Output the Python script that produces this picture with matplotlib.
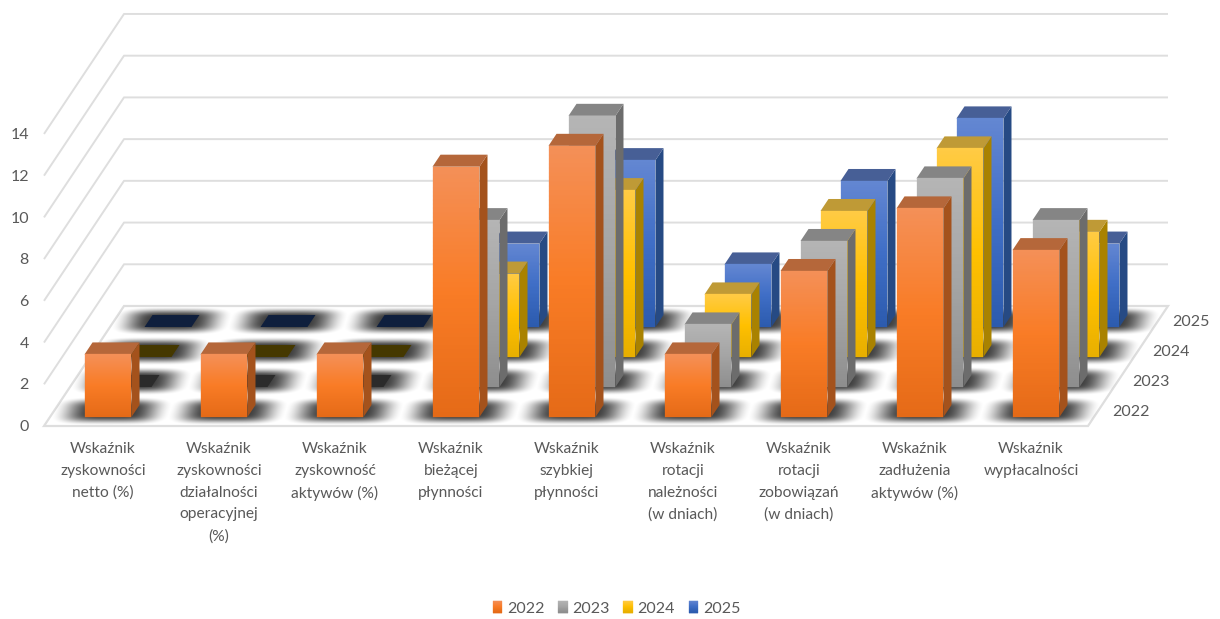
import matplotlib
matplotlib.use("Agg")
import matplotlib.pyplot as plt
import numpy as np
from matplotlib.collections import PolyCollection
from matplotlib.patches import Patch, Polygon

plt.rcParams['font.family'] = ['Lato', 'DejaVu Sans']

categories = [
    "Wskaźnik\nzyskowności\nnetto (%)",
    "Wskaźnik\nzyskowności\ndziałalności\noperacyjnej\n(%)",
    "Wskaźnik\nzyskowność\naktywów (%)",
    "Wskaźnik\nbieżącej\npłynności",
    "Wskaźnik\nszybkiej\npłynności",
    "Wskaźnik\nrotacji\nnależności\n(w dniach)",
    "Wskaźnik\nrotacji\nzobowiązań\n(w dniach)",
    "Wskaźnik\nzadłużenia\naktywów (%)",
    "Wskaźnik\nwypłacalności",
]
years = ["2022", "2023", "2024", "2025"]
values_2022 = [3, 3, 3, 12, 13, 3, 7, 10, 8]
values_2023 = [0, 0, 0, 8, 13, 3, 7, 10, 8]
values_2024 = [0, 0, 0, 4, 8, 3, 7, 10, 6]
values_2025 = [0, 0, 0, 4, 8, 3, 7, 10, 4]
series = [values_2022, values_2023, values_2024, values_2025]
value_ticks = [0, 2, 4, 6, 8, 10, 12, 14]

# top / middle / bottom of the front face gradient
front_cols = [
    ["#F49058", "#F97C26", "#E56A17"],
    ["#B5B5B5", "#A5A5A5", "#8E8E8E"],
    ["#FFCB45", "#FFC000", "#E8AF00"],
    ["#6487D2", "#3F6EC6", "#2C5BAE"],
]
side_cols = ["#A4521C", "#6C6C6C", "#A98200", "#264A84"]
top_cols = ["#B5673A", "#858585", "#BF9A36", "#475F96"]
zero_cols = ["#B5673A", "#2B2B2B", "#453800", "#0F1F3D"]

# oblique projection of the chart onto figure pixels
X0, Y0 = 44, 426
CAT_W, ROW_DX, ROW_DY, UNIT = 116, 20, 30, 20.86
BAR = 0.405
BAR_D = 0.4


def project(cat, row, value=0):
    return X0 + CAT_W * cat + ROW_DX * row, Y0 - ROW_DY * row - UNIT * value


fig = plt.figure(figsize=(12.2, 6.19), dpi=100)
ax = fig.add_axes([0, 0, 1, 1])
ax.set_xlim(0, 1220)
ax.set_ylim(619, 0)
ax.autoscale(False)
ax.axis("off")


def shade(verts, stops, z):
    # vertical three stop gradient made of thin strips, corners go TL TR BR BL
    tl, tr, br, bl = [np.array(v, dtype=float) for v in verts]
    rgb = np.array([matplotlib.colors.to_rgb(c) for c in stops])
    t = np.linspace(0, 1, 61)
    strips = []
    cols = []
    for a, b in zip(t[:-1], t[1:]):
        strips.append([tl + (bl - tl) * a, tr + (br - tr) * a, tr + (br - tr) * b, tl + (bl - tl) * b])
        cols.append([np.interp((a + b) / 2, [0, 0.5, 1], rgb[:, k]) for k in range(3)])
    ax.add_collection(PolyCollection(strips, facecolors=cols, edgecolors=cols, linewidths=0.2, zorder=z))


n_cat = len(categories)
n_row = len(years)
grid_col = "#DEDEDE"

# walls
for v in value_ticks[1:]:
    ax.plot(*zip(project(0, 0, v), project(0, n_row, v), project(n_cat, n_row, v)),
            color=grid_col, lw=1.4, zorder=1, solid_capstyle="butt")

# floor
floor = [project(0, 0), project(n_cat, 0), project(n_cat, n_row), project(0, n_row)]
ax.add_patch(Polygon(floor, closed=True, facecolor="white", edgecolor=grid_col, lw=1.6, zorder=2))

# soft shadows round each bar foot
gx, gy = np.meshgrid(np.arange(1220) + 0.5, np.arange(280, 440) + 0.5)
shadow = np.zeros(gx.shape)
for r in range(n_row):
    for c in range(n_cat):
        cx, cy = project(c + 0.5, r + 0.5)
        dist_x = np.abs(gx - cx + (gy - cy) * 0.3)
        dist = ((dist_x / 60) ** 4 + (np.abs(gy - cy) / 14.5) ** 4) ** (1 / 4)
        s = np.clip((1 - dist) / 0.65, 0, 1)
        shadow = np.maximum(shadow, s * s * (3 - 2 * s))
layer = np.zeros(gx.shape + (4,))
layer[..., 3] = 0.75 * shadow
im = ax.imshow(layer, extent=(0, 1220, 440, 280), aspect="auto", zorder=3, interpolation="bilinear")
im.set_clip_path(Polygon(floor, closed=True, transform=ax.transData))

# bars, back row first
z = 4
for r in reversed(range(n_row)):
    for c in range(n_cat):
        v = series[r][c]
        c0 = c + (1 - BAR) / 2
        c1 = c0 + BAR
        r0 = r + (1 - BAR_D) / 2
        r1 = r0 + BAR_D
        top = [project(c0, r0, v), project(c1, r0, v), project(c1, r1, v), project(c0, r1, v)]
        if v == 0:
            ax.add_patch(Polygon(top, closed=True, facecolor=zero_cols[r], edgecolor="none", zorder=z))
            z += 1
            continue
        front = [project(c0, r0, v), project(c1, r0, v), project(c1, r0), project(c0, r0)]
        side = [project(c1, r0, v), project(c1, r1, v), project(c1, r1), project(c1, r0)]
        ax.add_patch(Polygon(side, closed=True, facecolor=side_cols[r], edgecolor="none", zorder=z))
        ax.add_patch(Polygon(top, closed=True, facecolor=top_cols[r], edgecolor="none", zorder=z + 0.1))
        shade(front, front_cols[r], z + 0.2)
        z += 1

text_col = "#595959"
for v in value_ticks:
    x, y = project(0, 0, v)
    ax.text(x - 15, y + 1.2, str(v), ha="right", va="center", fontsize=11.5, color=text_col)

for c, label in enumerate(categories):
    x, y = project(c + 0.5, 0)
    ax.text(x + 1, y + 16, label, ha="center", va="top", multialignment="center",
            fontsize=11.2, color=text_col, linespacing=1.71)

for r, year in enumerate(years):
    x, y = project(n_cat, r + 0.5)
    ax.text(x + 33, y + 1, year, ha="center", va="center", fontsize=11.5, color=text_col)

handles = [Patch(facecolor=col[1], edgecolor="none", label=y) for col, y in zip(front_cols, years)]
leg = ax.legend(handles=handles, loc="center", bbox_to_anchor=(616.5, 608.5),
                bbox_transform=ax.transData, ncol=4, frameon=False,
                fontsize=11.5, labelcolor=text_col, handlelength=0.6, handleheight=0.75,
                handletextpad=0.3, columnspacing=0.85, borderpad=0)
fig.canvas.draw()
inv = ax.transData.inverted()
for h, col in zip(leg.legend_handles, front_cols):
    (x0, y0), (x1, y1) = inv.transform(h.get_window_extent().get_points())
    shade([(x0, y1), (x1, y1), (x1, y0), (x0, y0)], col, 6)

fig.savefig("out.png", dpi=100)
